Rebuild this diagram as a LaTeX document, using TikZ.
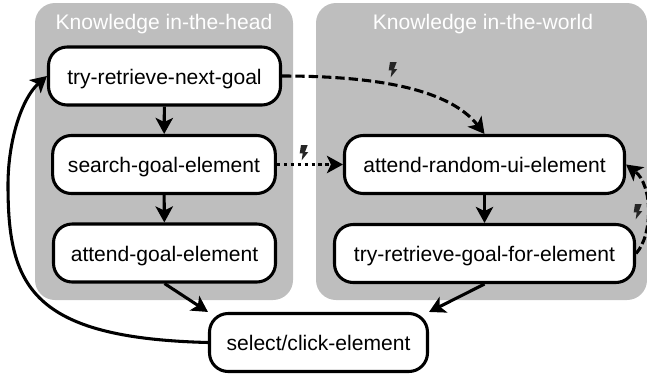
\documentclass[tikz,border=0pt]{standalone}
\usepackage{fontspec}
\setmainfont{Liberation Sans}
\usetikzlibrary{arrows.meta}
\usetikzlibrary{positioning}
\usetikzlibrary{calc}
\tikzset{
  panel/.style={fill=panelgray,rounded corners=15,draw=none},
  title/.style={white,font=\fontsize{15.8}{18}\selectfont,inner sep=0},
  state/.style={draw=black,fill=white,line width=2.3,rounded corners=14,inner sep=0,minimum height=43.5pt,text height=14pt,text depth=1.6pt,font=\fontsize{15.8}{18}\selectfont},
  flow/.style={line width=2.3,-{Stealth[length=12,width=13,inset=3]}},
  bolt/.pic={\fill[black!85] (-3,-7) -- (3.7,-7) -- (1,0) -- (4.3,0) -- (-2.3,8.3) -- (-1.3,1.3) -- (-4.3,1.3) -- cycle;}
}
\definecolor{panelgray}{gray}{0.745}
\begin{document}
\begin{tikzpicture}[x=0.75pt,y=-0.75pt]
\useasboundingbox (0,0) rectangle (647,375);
\fill[panel] (35,3) rectangle (293,300);
\fill[panel] (316,3) rectangle (647,300);
\node [title] (headtitle) at (164,24) {Knowledge in-the-head};
\node [title] (worldtitle) at (483,24) {Knowledge in-the-world};
%left column
\node [state,minimum width=174pt] (nextgoal) at (164.5,76) {try-retrieve-next-goal};
\node [state,minimum width=167pt] (searchgoal) at (164,164.5) {search-goal-element};
\node [state,minimum width=166.5pt] (attendgoal) at (164.5,253) {attend-goal-element};
%right column
\node [state,minimum width=210pt] (randomui) at (484.5,164.5) {attend-random-ui-element};
\node [state,minimum width=225pt] (goalforelement) at (484.5,253.5) {try-retrieve-goal-for-element};
\node [state,minimum width=163.5pt] (select) at (318.5,342.5) {select/click-element};
%arrows
\draw [flow] (nextgoal) -- (searchgoal);
\draw [flow] (searchgoal) -- (attendgoal);
\draw [flow] (randomui) -- (goalforelement);
\draw [flow] (attendgoal.south) -- (select.north west);
\draw [flow] (goalforelement.south) -- (select.north east);
\draw [flow] (select.west) .. controls (30,338) and (8,285) .. (8,185) .. controls (8,140) and (22,98) .. (nextgoal.west);
\draw [flow,dash pattern=on 7pt off 3pt] (nextgoal.east) .. controls (380,76) and (450,90) .. (randomui.north);
\draw [flow,dash pattern=on 2.6pt off 2.6pt] (searchgoal) -- (randomui);
\draw [flow,dash pattern=on 6pt off 2.5pt] (goalforelement.east) .. controls (653,235) and (653,185) .. (randomui.east);
%bolts
\pic at (393,69) {bolt};
\pic at (304,152) {bolt};
\pic at (638,211) {bolt};
\end{tikzpicture}
\end{document}
